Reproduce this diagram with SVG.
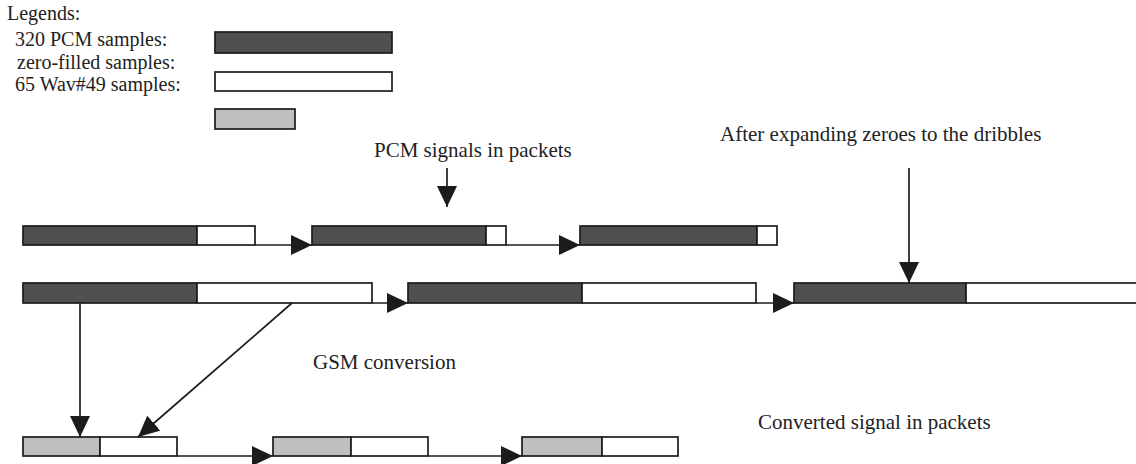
<svg xmlns="http://www.w3.org/2000/svg" width="1136" height="464" viewBox="0 0 1136 464">
  <style>
    text { font-family: "Liberation Serif", "Times New Roman", serif; font-size: 21px; fill: #222; }
    #legend text { font-size: 20px; }
    .pcm { fill: #4f4f4f; stroke: #1c1c1c; stroke-width: 1.7; }
    .zero { fill: #ffffff; stroke: #1c1c1c; stroke-width: 1.7; }
    .gsm { fill: #bfbfbf; stroke: #1c1c1c; stroke-width: 1.7; }
    .link { fill: none; stroke: #1c1c1c; stroke-width: 1.7; marker-end: url(#head); }
  </style>
  <defs>
    <marker id="head" markerUnits="userSpaceOnUse" markerWidth="21" markerHeight="20" refX="21" refY="10" orient="auto">
      <path d="M0,0 L21,10 L0,20 z" fill="#1c1c1c"/>
    </marker>
  </defs>
  <rect width="1136" height="464" fill="#ffffff"/>

  <!-- legend -->
  <g id="legend">
    <text x="7" y="20">Legends:</text>
    <text x="15" y="46">320 PCM samples:</text>
    <text x="17" y="69">zero-filled samples:</text>
    <text x="15" y="91">65 Wav#49 samples:</text>
    <rect class="pcm" x="215" y="32" width="177" height="21"/>
    <rect class="zero" x="215" y="72" width="177" height="19"/>
    <rect class="gsm" x="215" y="109" width="80" height="20"/>
  </g>

  <!-- captions -->
  <g id="label-pcm"><text x="374" y="157">PCM signals in packets</text></g>
  <g id="label-expand"><text x="720" y="141">After expanding zeroes to the dribbles</text></g>
  <g id="label-gsm"><text x="313" y="369">GSM conversion</text></g>
  <g id="label-converted"><text x="758" y="429">Converted signal in packets</text></g>

  <!-- row 1: PCM packets with short zero fill -->
  <g id="pcm-packet-1">
    <rect class="pcm" x="23" y="226" width="174" height="19"/>
    <rect class="zero" x="197" y="226" width="58" height="19"/>
  </g>
  <g id="pcm-packet-2">
    <rect class="pcm" x="312" y="226" width="174" height="19"/>
    <rect class="zero" x="486" y="226" width="20" height="19"/>
  </g>
  <g id="pcm-packet-3">
    <rect class="pcm" x="580" y="226" width="177" height="19"/>
    <rect class="zero" x="757" y="226" width="20" height="19"/>
  </g>

  <!-- row 2: packets after zero expansion -->
  <g id="expanded-packet-1">
    <rect class="pcm" x="23" y="283" width="174" height="20"/>
    <rect class="zero" x="197" y="283" width="175" height="20"/>
  </g>
  <g id="expanded-packet-2">
    <rect class="pcm" x="408" y="283" width="174" height="20"/>
    <rect class="zero" x="582" y="283" width="174" height="20"/>
  </g>
  <g id="expanded-packet-3">
    <rect class="pcm" x="794" y="283" width="172" height="20"/>
    <rect class="zero" x="966" y="283" width="180" height="20"/>
  </g>

  <!-- row 3: converted GSM packets -->
  <g id="gsm-packet-1">
    <rect class="gsm" x="23" y="437" width="77" height="19"/>
    <rect class="zero" x="100" y="437" width="77" height="19"/>
  </g>
  <g id="gsm-packet-2">
    <rect class="gsm" x="273" y="437" width="78" height="19"/>
    <rect class="zero" x="351" y="437" width="77" height="19"/>
  </g>
  <g id="gsm-packet-3">
    <rect class="gsm" x="522" y="437" width="80" height="19"/>
    <rect class="zero" x="602" y="437" width="76" height="19"/>
  </g>

  <!-- connectors -->
  <g id="connectors">
    <line class="link" x1="255" y1="245" x2="312" y2="245"/>
    <line class="link" x1="506" y1="245" x2="580" y2="245"/>
    <line class="link" x1="372" y1="303" x2="408" y2="303"/>
    <line class="link" x1="756" y1="303" x2="794" y2="303"/>
    <line class="link" x1="177" y1="456" x2="273" y2="456"/>
    <line class="link" x1="428" y1="456" x2="522" y2="456"/>
    <line class="link" x1="447" y1="168" x2="447" y2="207"/>
    <line class="link" x1="909" y1="168" x2="909" y2="283"/>
    <line class="link" x1="80" y1="303" x2="80" y2="437"/>
    <line class="link" x1="292" y1="303" x2="138" y2="437"/>
  </g>
</svg>
